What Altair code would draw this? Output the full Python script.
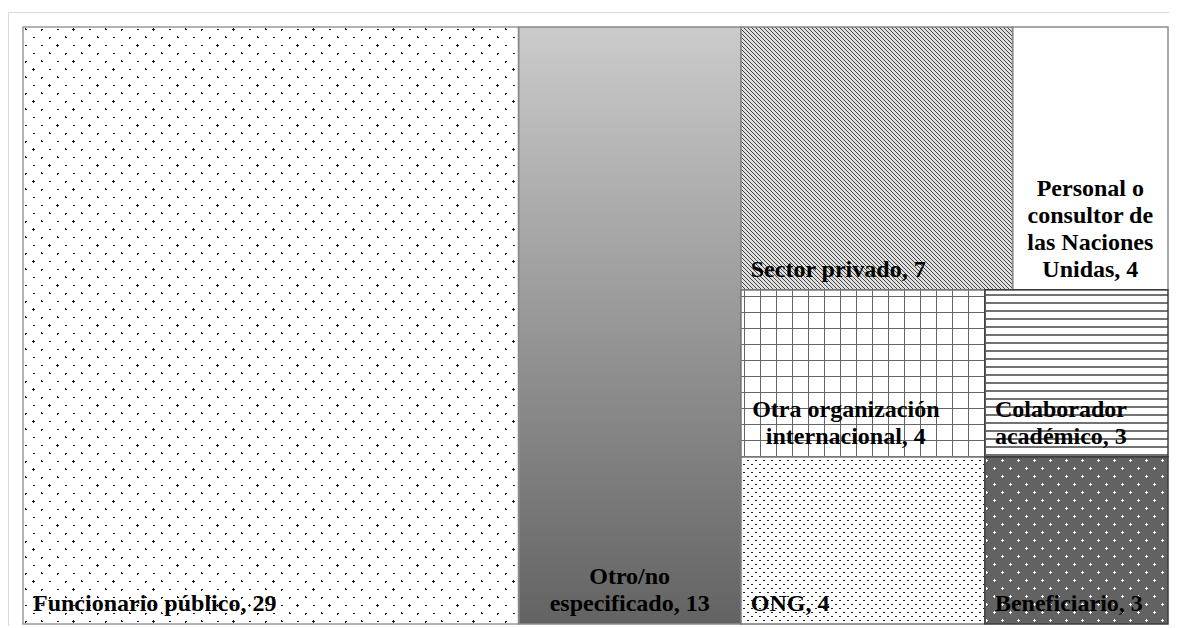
import altair as alt
import pandas as pd

# ---------------- data ----------------
categories = ["Funcionario público", "Otro/no especificado", "Sector privado",
              "Personal o consultor de las Naciones Unidas",
              "Otra organización internacional", "Colaborador académico",
              "ONG", "Beneficiario"]
values = [29, 13, 7, 4, 4, 3, 4, 3]
label_lines = [["Funcionario público"], ["Otro/no", "especificado"], ["Sector privado"],
               ["Personal o", "consultor de", "las Naciones", "Unidas"],
               ["Otra organización", "internacional"], ["Colaborador", "académico"],
               ["ONG"], ["Beneficiario"]]
label_align = ["left", "center", "left", "center", "center", "left", "left", "left"]

# treemap structure: three columns, the last one split in three rows of two tiles
tree_columns = [[[0]], [[1]], [[2, 3], [4, 5], [6, 7]]]

# ---------------- layout constants (pixels) ----------------
PLOT_W, PLOT_H = 1161, 614
X_RANGE = [15, 1160]
Y_RANGE = [15, 612]
TW = X_RANGE[1] - X_RANGE[0]
TH = Y_RANGE[1] - Y_RANGE[0]
LINE_H = 27


def layout():
    total = float(sum(values))
    rects = {}
    u = 0.0
    for rows in tree_columns:
        col_sum = sum(values[i] for r in rows for i in r)
        u2 = u + col_sum / total
        v = 0.0
        for r in rows:
            r_sum = float(sum(values[i] for i in r))
            v2 = v + r_sum / col_sum
            uu = u
            for i in r:
                uu2 = uu + values[i] / r_sum * (u2 - u)
                rects[i] = (uu, uu2, v, v2)
                uu = uu2
            v = v2
        u = u2
    return rects


rects = layout()

tiles = []
for i, cat in enumerate(categories):
    u1, u2, v1, v2 = rects[i]
    tiles.append(dict(idx=i, cat=cat, value=values[i], u1=u1, u2=u2, v1=v1, v2=v2))
df = pd.DataFrame(tiles)

# one row per label line, stacked upward from the tile's bottom edge
center_shift_px = {4: -17}
label_rows = []
for i, cat in enumerate(categories):
    u1, u2, v1, v2 = rects[i]
    lines = list(label_lines[i])
    lines[-1] = f"{lines[-1]}, {values[i]}"
    if label_align[i] == "left":
        lx = u1
    else:
        lx = (u1 + u2) / 2 + center_shift_px.get(i, 0) / TW
    n = len(lines)
    for k, line in enumerate(lines):
        label_rows.append(dict(idx=i, text=line, lx=lx,
                               ly=v2 - (n - 1 - k) * LINE_H / TH,
                               align=label_align[i]))
labels = pd.DataFrame(label_rows)

# ---------------- pattern helpers (SVG gradients) ----------------
CLEAR = "rgba(255,255,255,0)"


def grad(direction, W, H, period, width, on, off, phase=0.0):
    if direction == "h":
        L = H
        coords = dict(x1=0, y1=0, x2=0, y2=1)
    elif direction == "v":
        L = W
        coords = dict(x1=0, y1=0, x2=1, y2=0)
    else:
        L = W + H
        s = W * (W + H) / (W * W + H * H)
        if direction == "d1":
            coords = dict(x1=0, y1=0, x2=s, y2=s * H / W)
        else:
            coords = dict(x1=0, y1=1, x2=s, y2=1 - s * H / W)
    stops = [(0.0, off)]
    start = phase
    while start < L:
        a = start / L
        b = min((start + width) / L, 1.0)
        stops += [(a, off), (a, on), (b, on), (b, off)]
        start += period
    stops.append((1.0, off))
    return alt.LinearGradient(
        gradient="linear",
        stops=[alt.GradientStop(offset=round(o, 5), color=c) for o, c in stops],
        **coords)


def dots(W, H, period, size, dot, bg, phase=0.0):
    return [dot,
            grad("d1", W, H, period, size, CLEAR, bg, phase),
            grad("d2", W, H, period, size, CLEAR, bg, phase)]


def fills_for(i, W, H):
    if i == 0:
        return dots(W, H, 16, 2.8, "#1c1c1c", "white", 4)
    if i == 1:
        return [alt.LinearGradient(gradient="linear", x1=0, y1=0, x2=0, y2=1,
                                   stops=[alt.GradientStop(offset=0, color="#cbcbcb"),
                                          alt.GradientStop(offset=1, color="#636363")])]
    if i == 2:
        return [grad("d2", W, H, 4, 1.6, "#454545", "#dedede")]
    if i == 3:
        return ["white"]
    if i == 4:
        return ["white",
                grad("v", W, H, 16, 1.3, "#666666", CLEAR, 3),
                grad("h", W, H, 16, 1.3, "#666666", CLEAR, 6)]
    if i == 5:
        return [grad("h", W, H, 8, 2, "#727272", "white", 4)]
    if i == 6:
        return dots(W, H, 8, 2.0, "#222222", "white", 2)
    return dots(W, H, 16, 3.0, "white", "#626262", 4)


border_colors = ["#9a9a9a", "#8a8a8a", "#888888", "#8c8c8c", "#777777", "#3c3c3c", "#777777", "#3c3c3c"]

xs = alt.Scale(domain=[0, 1], range=X_RANGE)
ys = alt.Scale(domain=[0, 1], range=Y_RANGE)

base = alt.Chart(df)
rect_enc = dict(
    x=alt.X("u1:Q", scale=xs, axis=None),
    x2=alt.X2("u2"),
    y=alt.Y("v1:Q", scale=ys, axis=None),
    y2=alt.Y2("v2"),
)

layers = []
for i in range(len(categories)):
    u1, u2, v1, v2 = rects[i]
    W = (u2 - u1) * TW
    H = (v2 - v1) * TH
    for f in fills_for(i, W, H):
        layers.append(
            base.mark_rect(fill=f, strokeWidth=0)
            .encode(**rect_enc)
            .transform_filter(alt.datum.idx == i)
        )

borders = base.mark_rect(filled=False, strokeWidth=1.5).encode(
    **rect_enc,
    stroke=alt.Stroke("cat:N", scale=alt.Scale(domain=categories, range=border_colors), legend=None),
)
layers.append(borders)

text_style = dict(baseline="bottom", font="Liberation Serif", fontWeight="bold",
                  fontSize=24, color="black", dy=-8)
lbase = alt.Chart(labels)
text_enc = dict(
    x=alt.X("lx:Q", scale=xs, axis=None),
    y=alt.Y("ly:Q", scale=ys, axis=None),
    text=alt.Text("text:N"),
)
left_text = lbase.mark_text(align="left", dx=10, **text_style).encode(**text_enc) \
    .transform_filter(alt.datum.align == "left")
center_text = lbase.mark_text(align="center", **text_style).encode(**text_enc) \
    .transform_filter(alt.datum.align == "center")
layers += [left_text, center_text]

chart = alt.layer(*layers).properties(
    width=PLOT_W, height=PLOT_H,
    padding={"left": 0, "top": 4, "right": 0, "bottom": 0},
    autosize="none",
    background="white",
).configure_view(stroke="#d9d9d9", strokeWidth=1)

chart.save("out.html", embed_options={"renderer": "svg", "actions": False})
